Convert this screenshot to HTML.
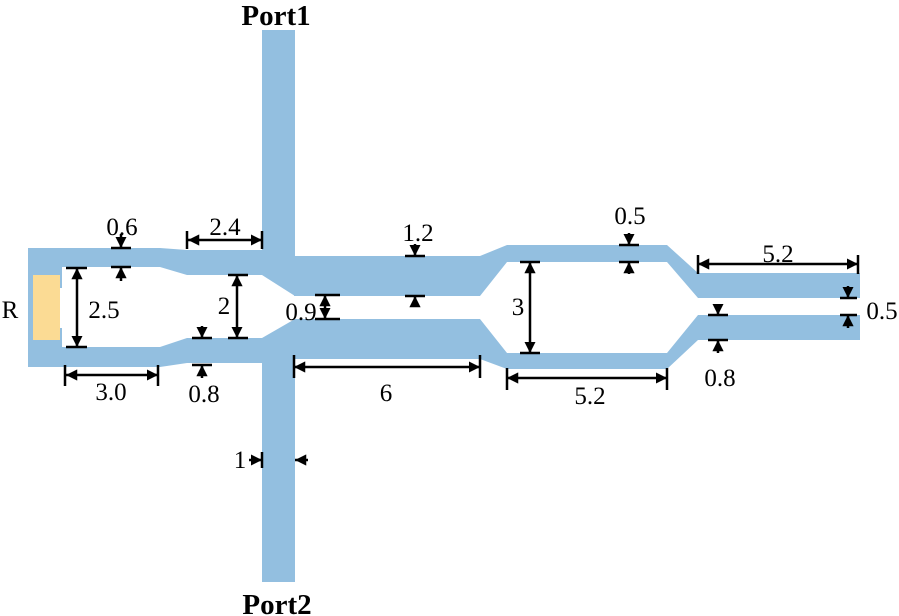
<!DOCTYPE html>
<html><head><style>html,body{margin:0;padding:0;background:#fff}svg{display:block}</style></head><body>
<svg width="899" height="616" viewBox="0 0 899 616" xmlns="http://www.w3.org/2000/svg" font-family="Liberation Serif, serif">
<defs><marker id="a" viewBox="0 0 10 10" refX="10" refY="5" markerWidth="4.5" markerHeight="4.5" orient="auto-start-reverse"><path d="M0,0L10,5L0,10z" fill="#000"/></marker></defs>
<g fill="#93bfe0">
<polygon points="262,30 295,30 295,582 262,582 262,338 295,319 295,296 262,275"/>
<polygon points="28,248 160,248 187,250 262,250 262,275 187,275 160,267 28,267"/>
<polygon points="28,347 160,347 187,338 262,338 262,363 187,363 160,367 28,367"/>
<polygon points="294,256 480,256 507,245 667,245 698,273 860,273 860,298 698,298 667,262 507,262 480,296 294,296"/>
<polygon points="294,319 480,319 507,353 667,353 698,315 860,315 860,340 698,340 667,369 507,369 480,359 294,359"/>
<rect x="28" y="266" width="34" height="22"/><rect x="28" y="328" width="34" height="20"/><rect x="28" y="266" width="6" height="82"/>
</g>
<rect x="33" y="275" width="27" height="65" fill="#fbdb94"/>
<g stroke="#000" stroke-width="2.5" fill="none">
<path d="M111,248H131M111,267H131M187,231V249M262,231V249M66,268H87M66,347H87M65,365V386M158,365V386M228,275H248M228,338H248M192,338H212M192,365H212M315,295H340M315,319H340M405,256H425M405,296H425M294,355V378M480,355V378M520,262H540M520,353H540M507,368V390M667,368V390M619,245H639M619,262H639M698,255V274M858,255V274M840,298H857M840,315H857M708,315H728M708,340H728"/>
<g marker-end="url(#a)">
<path d="M121,234V248"/><path d="M121,281V267"/><path d="M202,326V338"/><path d="M202,378V365"/>
<path d="M415,244V256"/><path d="M415,307V296"/><path d="M629,233V245"/><path d="M629,274V262"/>
<path d="M848,286V298"/><path d="M848,328V315"/><path d="M718,304V315"/><path d="M718,353V340"/>
<path d="M249,460H262"/><path d="M308,460H295"/>
</g>
<g marker-start="url(#a)" marker-end="url(#a)">
<path d="M188,240H262"/><path d="M77,268V347"/><path d="M66,375H158"/><path d="M237,275V338"/>
<path d="M325,295V319"/><path d="M294,367H480"/><path d="M530,262V353"/><path d="M507,378H667"/><path d="M698,264H858"/>
</g>
<path d="M262,452V468"/>
</g>
<g font-size="25" fill="#000" text-anchor="middle">
<text x="122" y="235">0.6</text><text x="225" y="235">2.4</text><text x="104" y="318">2.5</text><text x="111" y="400">3.0</text>
<text x="224" y="314">2</text><text x="204" y="402">0.8</text><text x="301" y="320">0.9</text><text x="418" y="241">1.2</text>
<text x="386" y="401">6</text><text x="518" y="315">3</text><text x="590" y="404">5.2</text><text x="630" y="224">0.5</text>
<text x="778" y="262">5.2</text><text x="882" y="319">0.5</text><text x="720" y="386">0.8</text><text x="240" y="468">1</text>
<text x="10" y="318">R</text>
<text x="276" y="25" font-weight="bold" font-size="29">Port1</text>
<text x="277" y="614" font-weight="bold" font-size="29">Port2</text>
</g>
</svg>
</body></html>
